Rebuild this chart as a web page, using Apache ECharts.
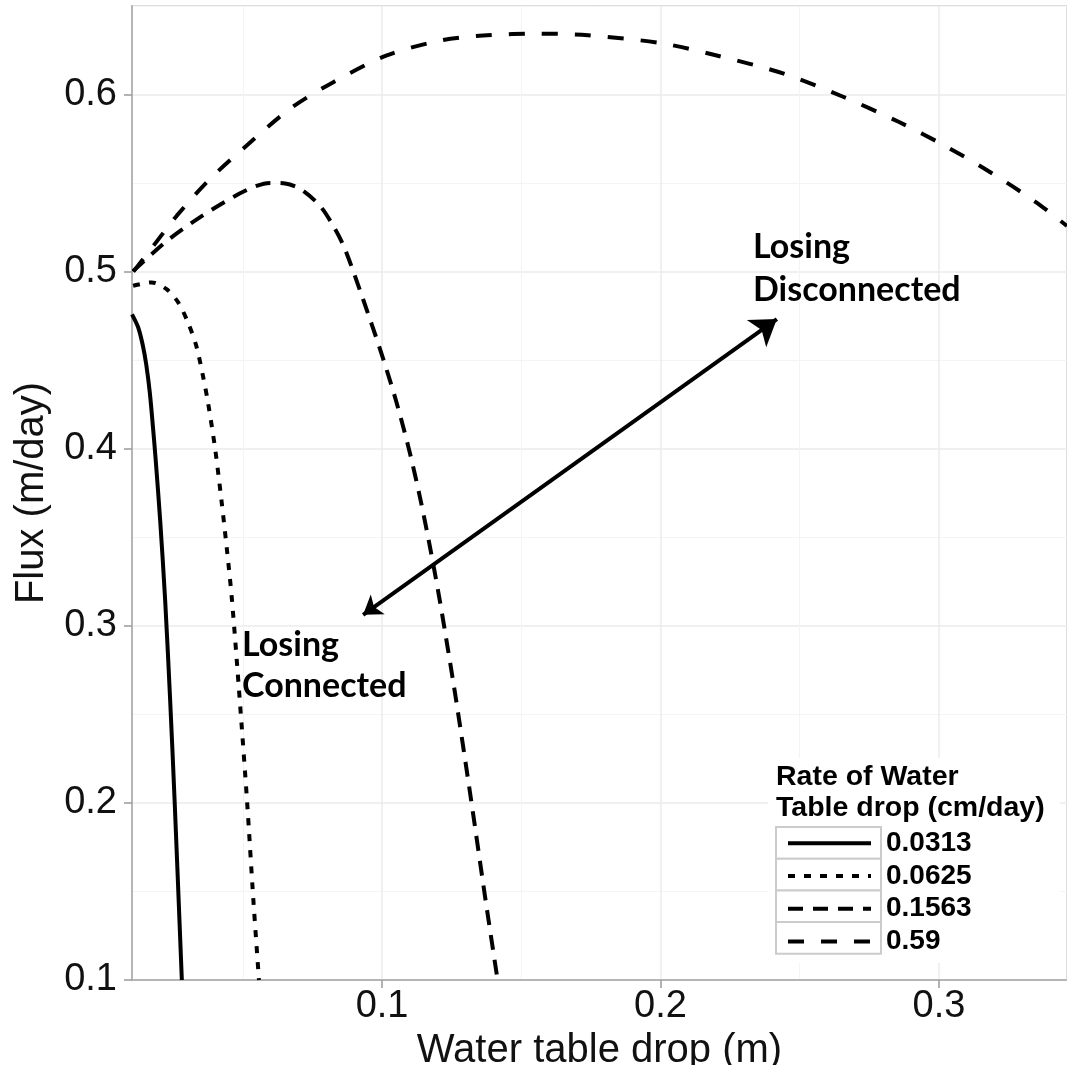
<!DOCTYPE html>
<html lang="en">
  <head>
    <meta charset="UTF-8" />
    <title>Flux vs water table drop</title>
    <style>
      body {
        margin: 0;
        overflow: hidden;
        background: #fff;
      }
    </style>
    <script src="https://cdn.jsdelivr.net/npm/echarts@6/dist/echarts.min.js"></script>
  </head>

  <body>
    <div id="chart" style="width: 1067px; height: 1065px"></div>
    <script>
      // rates of water table drop (cm/day), one curve each
      var rateNames = ["0.0313", "0.0625", "0.1563", "0.59"];

      // [water table drop (m), flux (m/day)]
      var flux0313 = [
        [0.0102, 0.4759], [0.0124, 0.4686], [0.014, 0.459], [0.0153, 0.4477],
        [0.0166, 0.4316], [0.0177, 0.4127], [0.0187, 0.3939], [0.0203, 0.3599],
        [0.0221, 0.3147], [0.0239, 0.2581], [0.0255, 0.2015], [0.0281, 0.1]
      ];
      var flux0625 = [
        [0.0106, 0.492], [0.0172, 0.4939], [0.0226, 0.4901], [0.0268, 0.4826],
        [0.0303, 0.4713], [0.0333, 0.458], [0.0357, 0.441], [0.0375, 0.426],
        [0.0401, 0.3995], [0.0423, 0.3712], [0.0443, 0.3429], [0.0461, 0.3146],
        [0.0489, 0.2581], [0.0515, 0.2015], [0.0538, 0.1449], [0.0558, 0.1]
      ];
      var flux1563 = [
        [0.0106, 0.5003], [0.0227, 0.5173], [0.0347, 0.5308], [0.0466, 0.5422],
        [0.0544, 0.5481], [0.0598, 0.5501], [0.0652, 0.5498], [0.0706, 0.5467],
        [0.0777, 0.5372], [0.0831, 0.5241], [0.0867, 0.5127], [0.0932, 0.4844],
        [0.0993, 0.4561], [0.1049, 0.4278], [0.1097, 0.3995], [0.1138, 0.3713],
        [0.1174, 0.343], [0.1207, 0.3147], [0.1237, 0.2864], [0.1266, 0.2581],
        [0.132, 0.2015], [0.1372, 0.1449], [0.1415, 0.1]
      ];
      var flux59 = [
        [0.0107, 0.5], [0.0179, 0.5146], [0.0263, 0.5316], [0.0382, 0.5523],
        [0.0514, 0.5712], [0.067, 0.592], [0.0825, 0.607], [0.1017, 0.6221],
        [0.1213, 0.6306], [0.1377, 0.6335], [0.1558, 0.6344], [0.174, 0.6335],
        [0.2002, 0.629], [0.2198, 0.6222], [0.2443, 0.6118], [0.2658, 0.5986],
        [0.2855, 0.5846], [0.302, 0.5712], [0.3183, 0.5563], [0.3348, 0.5393],
        [0.346, 0.5258]
      ];

      // double headed arrow between the two regimes
      var arrowEnds = [[0.0932, 0.3062], [0.2418, 0.4732]];

      var xRange = [0.0102, 0.346];
      var yRange = [0.1, 0.65];

      var dashes = ["solid", [7, 9], [15, 10], [16, 17]];
      var curves = [flux0313, flux0625, flux1563, flux59];

      var axisFont = "Liberation Sans, Arial, sans-serif";
      var noteFont = "Lato, 'Open Sans', sans-serif";

      var series = curves.map(function (d, i) {
        return {
          type: "line",
          name: rateNames[i],
          data: d,
          smooth: 0.3,
          symbol: "none",
          showSymbol: false,
          clip: true,
          itemStyle: { color: "#000" },
          lineStyle: { color: "#000", width: 4, type: dashes[i], cap: "butt" },
          z: 3,
        };
      });
      series.push({
        type: "lines",
        name: "arrow",
        coordinateSystem: "cartesian2d",
        data: [{ coords: arrowEnds }],
        symbol: ["arrow", "arrow"],
        symbolSize: [18, 25],
        itemStyle: { color: "#000" },
        lineStyle: { color: "#000", width: 4, opacity: 1, curveness: 0 },
        silent: true,
        z: 4,
      });

      // legend key boxes
      var keyTop = 827;
      var keyRow = 31.7;
      var keyText = 27;
      var keyBoxes = rateNames.map(function (n, i) {
        return {
          type: "rect",
          shape: { x: 776, y: keyTop + i * keyRow, width: 105, height: keyRow },
          style: { fill: "#fff", stroke: "#cccccc", lineWidth: 2 },
          z: 5,
          silent: true,
        };
      });

      var option = {
        animation: false,
        backgroundColor: "#fff",
        textStyle: { fontFamily: axisFont },
        grid: {
          left: 132,
          top: 6,
          right: 0,
          bottom: 85,
          containLabel: false,
          outerBoundsMode: "none",
          show: true,
          borderColor: "#b5b5b5",
          borderWidth: 2,
          backgroundColor: "#fff",
        },
        xAxis: {
          type: "value",
          min: xRange[0],
          max: xRange[1],
          splitNumber: 3,
          name: "Water table drop (m)",
          nameLocation: "middle",
          nameGap: 47,
          nameTextStyle: { fontSize: 40, color: "#111", fontFamily: axisFont },
          axisLine: { show: true, lineStyle: { color: "#b5b5b5", width: 2 } },
          axisTick: { show: true, length: 8, lineStyle: { color: "#9a9a9a", width: 1.5 } },
          axisLabel: {
            fontSize: 38,
            color: "#111",
            margin: 8,
            showMinLabel: false,
            showMaxLabel: false,
            fontFamily: axisFont,
          },
          splitLine: { show: true, lineStyle: { color: "#ebebeb", width: 1.5 } },
          minorTick: { show: false, splitNumber: 2 },
          minorSplitLine: { show: true, lineStyle: { color: "#f4f4f4", width: 1 } },
        },
        yAxis: {
          type: "value",
          min: yRange[0],
          max: yRange[1],
          interval: 0.1,
          name: "Flux (m/day)",
          nameLocation: "middle",
          nameGap: 80,
          nameTextStyle: { fontSize: 40, color: "#111", fontFamily: axisFont },
          axisLine: { show: true, lineStyle: { color: "#b5b5b5", width: 2 } },
          axisTick: { show: true, length: 8, lineStyle: { color: "#9a9a9a", width: 1.5 } },
          axisLabel: {
            fontSize: 38,
            color: "#111",
            margin: 15,
            showMinLabel: true,
            showMaxLabel: false,
            fontFamily: axisFont,
          },
          splitLine: { show: true, lineStyle: { color: "#ebebeb", width: 1.5 } },
          minorTick: { show: false, splitNumber: 2 },
          minorSplitLine: { show: true, lineStyle: { color: "#f4f4f4", width: 1 } },
        },
        legend: {
          data: rateNames,
          orient: "vertical",
          left: 786,
          top: keyTop + (keyRow - keyText) / 2,
          padding: 0,
          itemWidth: 83,
          itemHeight: keyText,
          itemGap: keyRow - keyText,
          selectedMode: false,
          z: 10,
          lineStyle: { width: 4 },
          itemStyle: {
            color: "rgba(0,0,0,0)",
            borderColor: "rgba(0,0,0,0)",
            borderWidth: 0,
            opacity: 0,
          },
          textStyle: {
            fontSize: 28,
            fontWeight: "bold",
            color: "#000",
            fontFamily: axisFont,
            lineHeight: keyText,
            padding: [0, 0, 0, 10],
          },
        },
        graphic: [
          {
            type: "rect",
            shape: { x: 768, y: 758, width: 292, height: 205 },
            style: { fill: "#fff" },
            z: 4,
            silent: true,
          },
          {
            type: "text",
            x: 776,
            y: 762,
            z: 6,
            style: {
              text: "Rate of Water\nTable drop (cm/day)",
              font: "bold 28.5px " + axisFont,
              fill: "#000",
              lineHeight: 31,
              textVerticalAlign: "top",
            },
          },
          {
            type: "text",
            x: 753,
            y: 226,
            z: 6,
            style: {
              text: "Losing\nDisconnected",
              font: "bold 34px " + noteFont,
              fill: "#000",
              lineHeight: 43,
              textVerticalAlign: "top",
            },
          },
          {
            type: "text",
            x: 242,
            y: 625,
            z: 6,
            style: {
              text: "Losing\nConnected",
              font: "bold 34px " + noteFont,
              fill: "#000",
              lineHeight: 41,
              textVerticalAlign: "top",
            },
          },
        ].concat(keyBoxes),
        series: series,
      };

      var myChart = echarts.init(document.getElementById("chart"));
      myChart.setOption(option);
    </script>
  </body>
</html>
